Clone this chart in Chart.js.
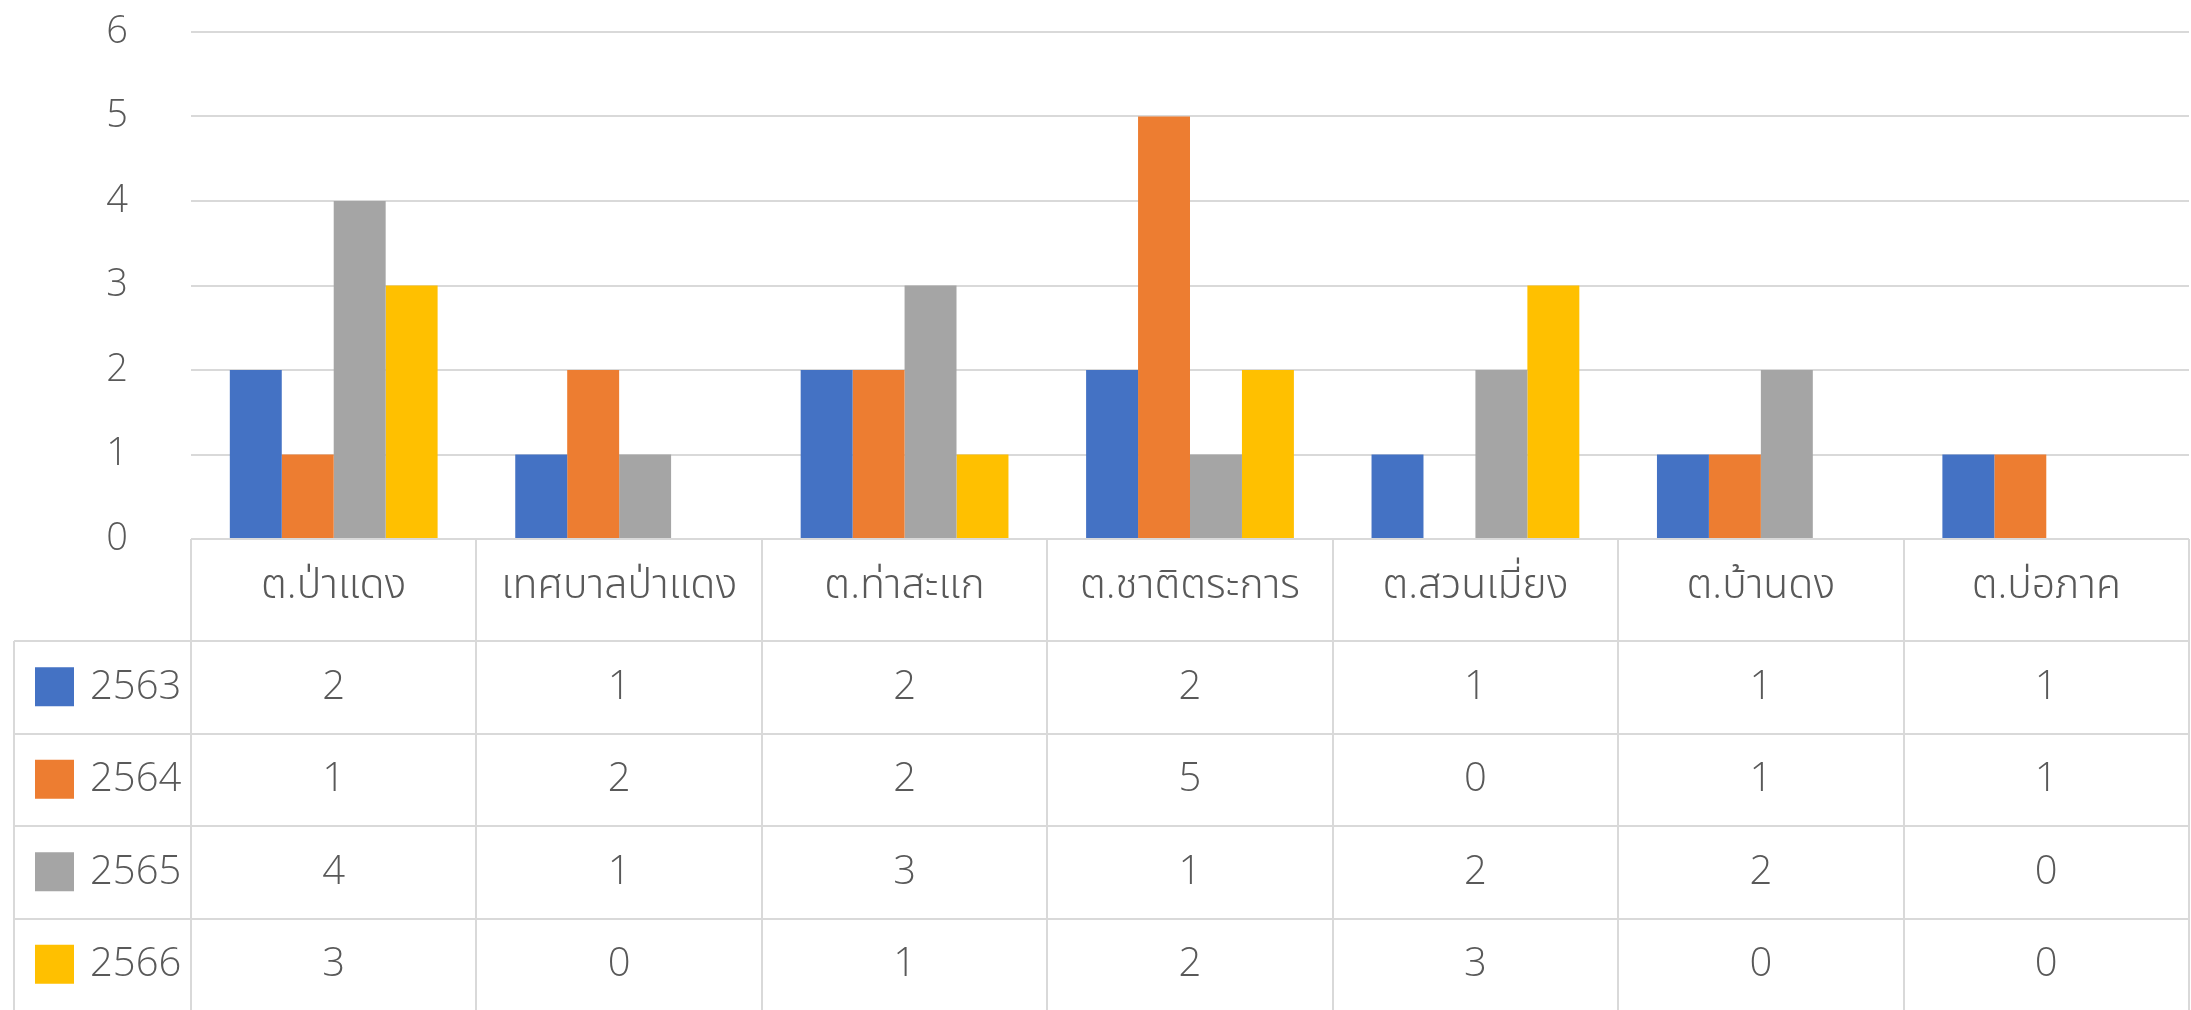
<!DOCTYPE html>
<html>
<head>
<meta charset="utf-8">
<script src="https://cdn.jsdelivr.net/npm/chart.js@4"></script>
<style>
  html, body { margin: 0; padding: 0; background: #fff; }
  #wrap { width: 2191px; height: 1010px; position: relative; }
</style>
</head>
<body>
<div id="wrap"><canvas id="chart"></canvas></div>
<script>
// ---- Data ----
const categories = ['ต.ป่าแดง', 'เทศบาลป่าแดง', 'ต.ท่าสะแก', 'ต.ชาติตระการ', 'ต.สวนเมี่ยง', 'ต.บ้านดง', 'ต.บ่อภาค'];
const seriesNames = ['2563', '2564', '2565', '2566'];
const values2563 = [2, 1, 2, 2, 1, 1, 1];
const values2564 = [1, 2, 2, 5, 0, 1, 1];
const values2565 = [4, 1, 3, 1, 2, 2, 0];
const values2566 = [3, 0, 1, 2, 3, 0, 0];
const yTicks = [0, 1, 2, 3, 4, 5, 6];

const COLORS = ['#4472C4', '#ED7D31', '#A5A5A5', '#FFC000'];
const GRID = '#D9D9D9';
const TEXT = '#595959';
const FONT = '"Open Sans", "Noto Sans", "Noto Sans Thai", sans-serif';

const allSeries = [values2563, values2564, values2565, values2566];

// ---- Data table under the plot ----
const dataTable = {
  id: 'dataTable',
  afterDraw(chart) {
    const ctx = chart.ctx;
    const area = chart.chartArea;
    const n = categories.length;
    const colW = (area.right - area.left) / n;
    const top = area.bottom;
    const headH = 102;
    const rowH = 92.5;
    const legendLeft = 14;
    const bottom = chart.height;

    ctx.save();
    ctx.strokeStyle = GRID;
    ctx.lineWidth = 2;

    // top border of header
    ctx.beginPath();
    ctx.moveTo(area.left, top); ctx.lineTo(area.right, top);
    ctx.stroke();

    // vertical lines of columns
    for (let i = 0; i <= n; i++) {
      const x = Math.round(area.left + i * colW);
      ctx.beginPath();
      ctx.moveTo(x, top); ctx.lineTo(x, bottom);
      ctx.stroke();
    }
    // legend column left line
    ctx.beginPath();
    ctx.moveTo(legendLeft, top + headH); ctx.lineTo(legendLeft, bottom);
    ctx.stroke();

    // horizontal row lines
    for (let r = 0; r < allSeries.length; r++) {
      const y = Math.round(top + headH + r * rowH);
      ctx.beginPath();
      ctx.moveTo(legendLeft, y); ctx.lineTo(area.right, y);
      ctx.stroke();
    }

    // header labels
    ctx.fillStyle = TEXT;
    ctx.textAlign = 'center';
    ctx.textBaseline = 'middle';
    ctx.font = '300 41px ' + FONT;
    categories.forEach((c, i) => {
      ctx.fillText(c, area.left + (i + 0.5) * colW, top + headH / 2 - 4);
    });

    // data rows
    allSeries.forEach((vals, r) => {
      const cy = top + headH + (r + 0.5) * rowH;
      ctx.fillStyle = COLORS[r];
      ctx.fillRect(35, cy - 20, 39, 39);
      ctx.fillStyle = TEXT;
      ctx.font = '300 40px ' + FONT;
      ctx.textAlign = 'left';
      ctx.fillText(seriesNames[r], 90, cy);
      ctx.textAlign = 'center';
      vals.forEach((v, i) => {
        ctx.fillText(String(v), area.left + (i + 0.5) * colW, cy);
      });
    });
    ctx.restore();
  }
};

new Chart(document.getElementById('chart'), {
  type: 'bar',
  data: {
    labels: categories,
    datasets: seriesNames.map((name, i) => ({
      label: name,
      data: allSeries[i],
      backgroundColor: COLORS[i],
      borderWidth: 0,
      barPercentage: 1,
      categoryPercentage: 0.728,
    }))
  },
  options: {
    responsive: true,
    maintainAspectRatio: false,
    animation: false,
    layout: { padding: { top: 32, bottom: 471, right: 2, left: 0 } },
    plugins: { legend: { display: false }, tooltip: { enabled: false } },
    scales: {
      x: { display: false },
      y: {
        min: 0,
        max: 6,
        afterBuildTicks: axis => { axis.ticks = yTicks.map(v => ({ value: v })); },
        afterFit: axis => {
          axis.width = 191;
          axis.paddingTop = 0;
          axis.paddingBottom = 0;
        },
        grid: { color: GRID, lineWidth: 2, drawTicks: false },
        border: { display: false },
        ticks: { color: TEXT, padding: 63, font: { size: 38, weight: 300, family: FONT } }
      }
    }
  },
  plugins: [dataTable]
});
</script>
</body>
</html>
